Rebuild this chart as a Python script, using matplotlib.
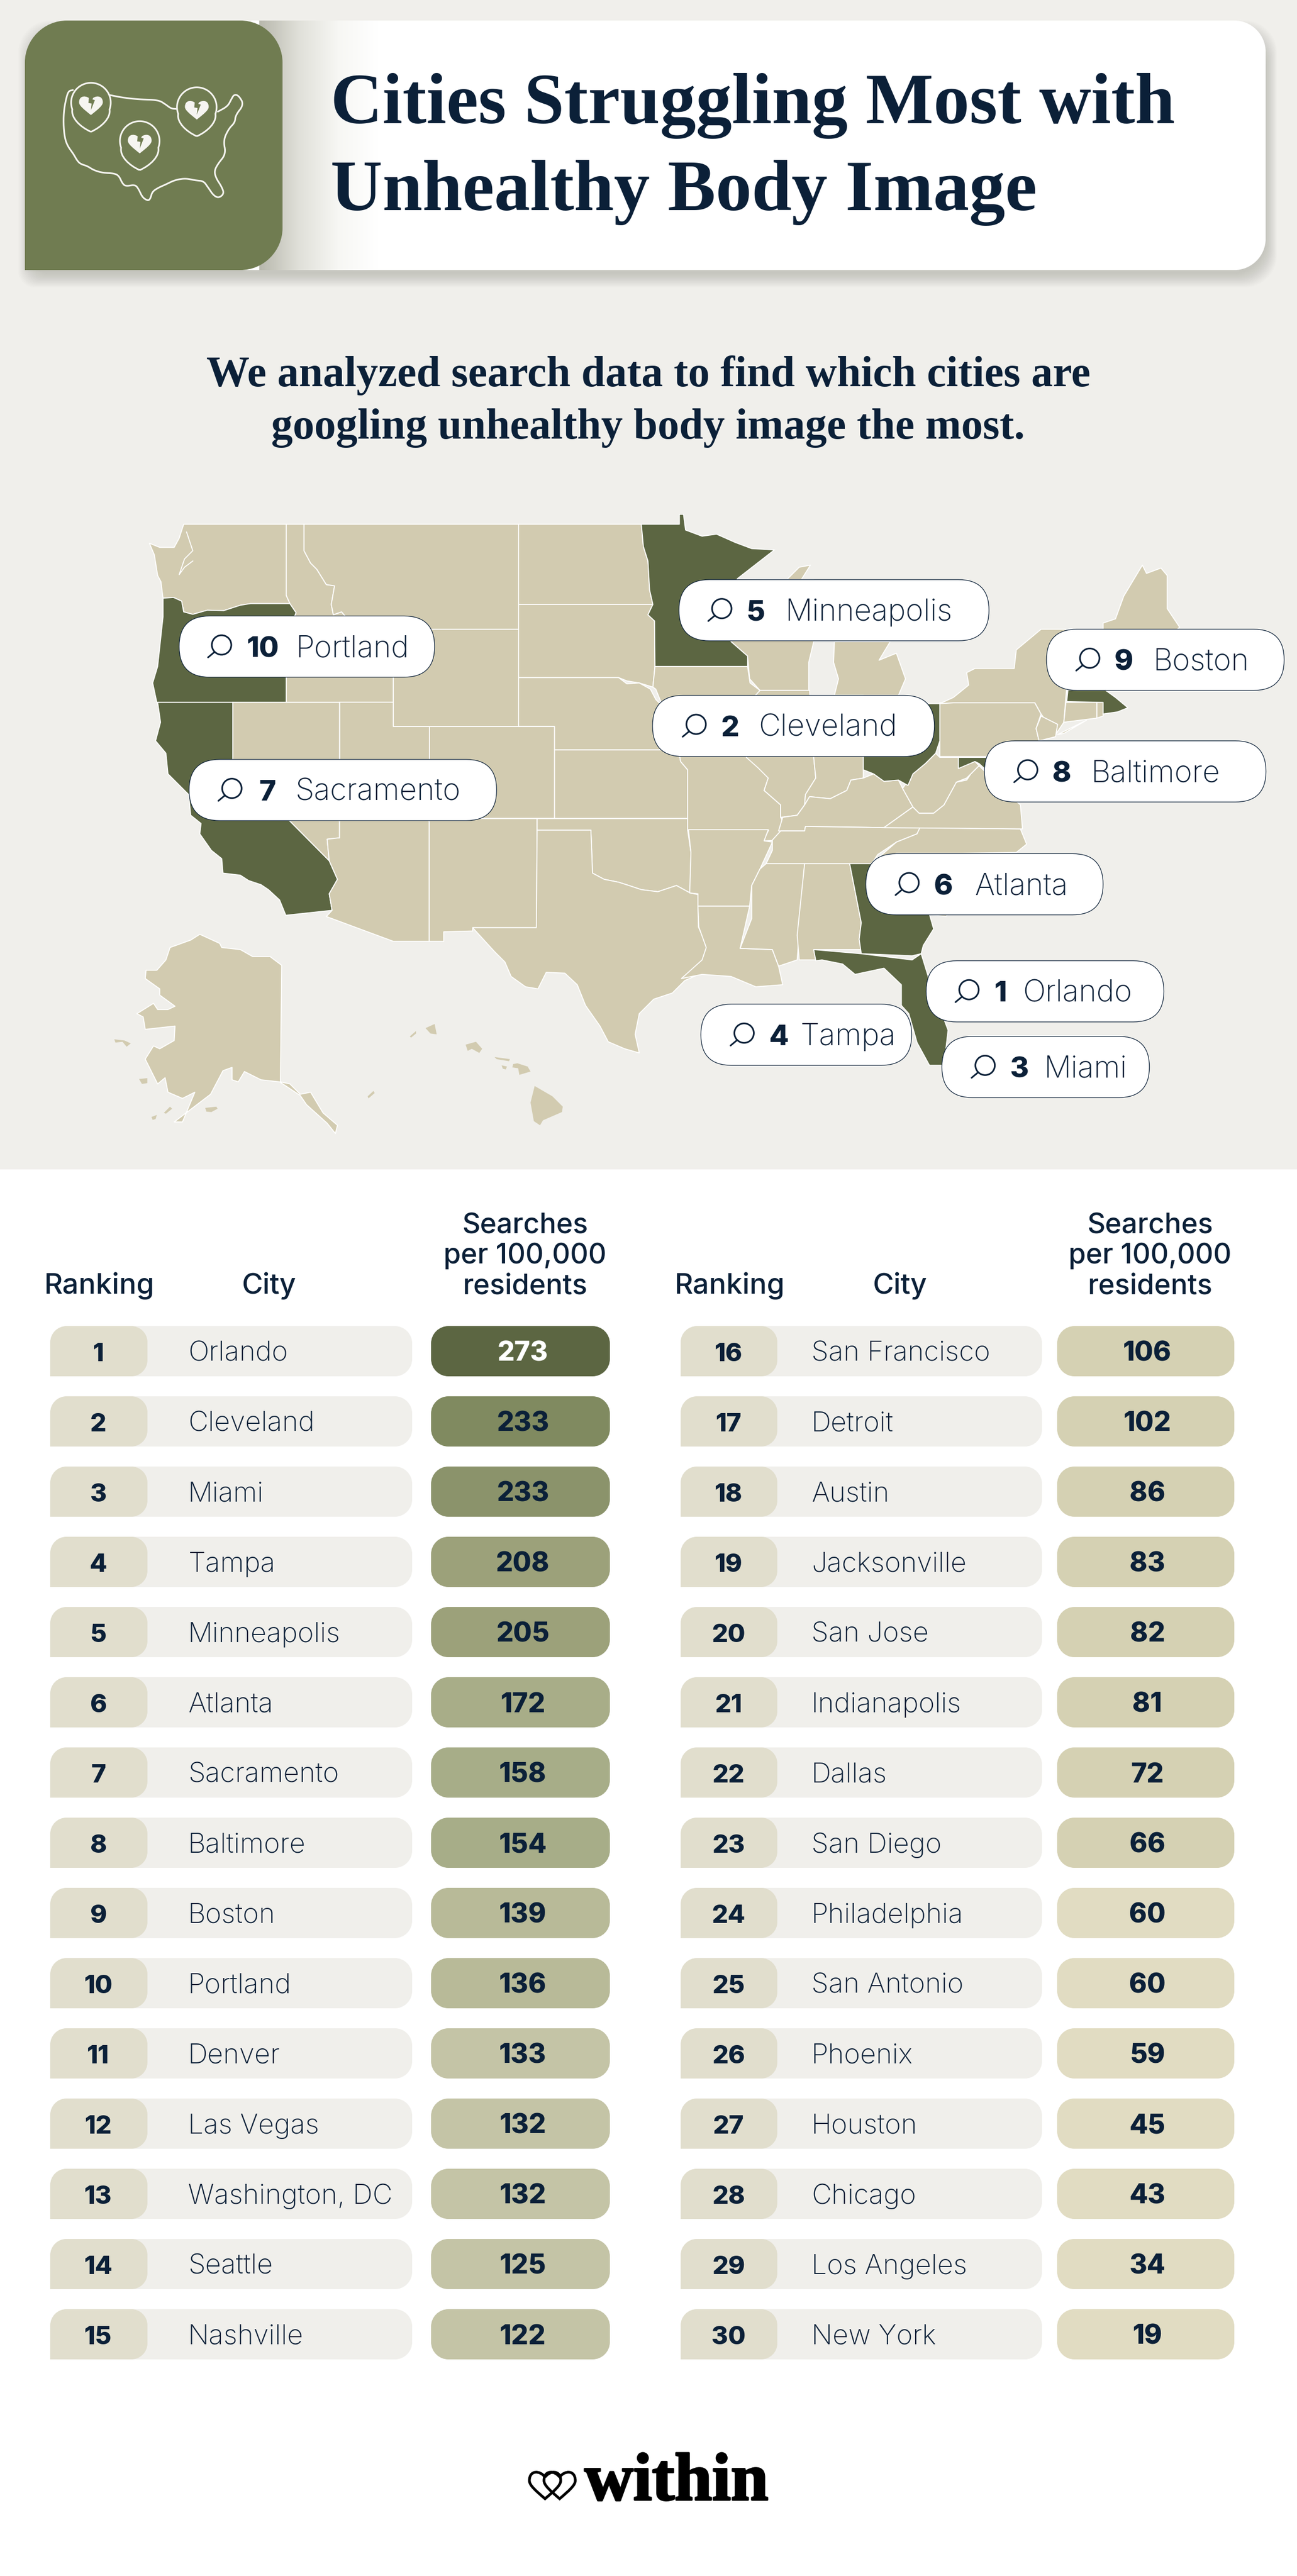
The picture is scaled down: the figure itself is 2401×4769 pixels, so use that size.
import numpy as np
import matplotlib
matplotlib.use('Agg')
import matplotlib.pyplot as plt
import matplotlib.patheffects as pe
from matplotlib.colors import LinearSegmentedColormap
from matplotlib.patches import PathPatch, Polygon, FancyBboxPatch, Circle, Rectangle
from matplotlib.path import Path

# table data
RANKS = list(range(1, 31))
CITIES = ['Orlando', 'Cleveland', 'Miami', 'Tampa', 'Minneapolis', 'Atlanta', 'Sacramento',
          'Baltimore', 'Boston', 'Portland', 'Denver', 'Las Vegas', 'Washington, DC', 'Seattle',
          'Nashville', 'San Francisco', 'Detroit', 'Austin', 'Jacksonville', 'San Jose',
          'Indianapolis', 'Dallas', 'San Diego', 'Philadelphia', 'San Antonio', 'Phoenix',
          'Houston', 'Chicago', 'Los Angeles', 'New York']
SEARCHES = [273, 233, 233, 208, 205, 172, 158, 154, 139, 136, 133, 132, 132, 125, 122,
            106, 102, 86, 83, 82, 81, 72, 66, 60, 60, 59, 45, 43, 34, 19]
VALUE_COLORS = ['#5c6642', '#808a60', '#8b936b', '#9ca17a', '#9ca17a', '#a8ad88', '#a7ad88',
                '#a7ad88', '#b8ba98', '#b8ba98', '#c4c4a6', '#c4c4a6', '#c4c4a6', '#c4c4a6',
                '#c4c4a6', '#d5d1b3', '#d5d1b3', '#d5d1b3', '#d5d1b3', '#d5d1b3', '#d5d1b3',
                '#d5d1b3', '#d5d1b3', '#e1dcc2', '#e1dcc2', '#e1dcc2', '#e1dcc2', '#e1dcc2',
                '#e1dcc2', '#e1dcc2']
HEADER_TITLE = ['Cities Struggling Most with', 'Unhealthy Body Image']
SUBTITLE = ['We analyzed search data to find which cities are', 'googling unhealthy body image the most.']

# state outlines, in map units (western half)
WEST_STATES = {
    'WA': [(183, 66), (431, 66), (431, 238), (440, 258), (345, 258), (320, 262), (280, 275), (240, 274),
           (205, 284), (183, 278), (178, 252), (158, 243), (133, 245), (128, 205), (120, 190), (112, 140),
           (100, 112), (125, 122), (160, 122), (172, 100)],
    'OR': [(133, 245), (158, 243), (178, 252), (183, 278), (205, 284), (240, 274), (280, 275), (320, 262),
           (345, 258), (440, 258), (455, 280), (431, 340), (431, 497), (118, 497), (108, 450), (120, 410),
           (133, 290)],
    'CA': [(120, 497), (302, 497), (302, 645), (535, 880), (555, 925), (535, 960), (542, 1000), (430, 1012),
           (415, 975), (388, 950), (370, 938), (340, 928), (320, 915), (278, 910), (275, 875), (250, 855),
           (222, 815), (225, 790), (200, 770), (195, 720), (145, 670), (140, 620), (115, 590), (127, 545)],
    'ID': [(431, 66), (474, 66), (474, 130), (490, 160), (505, 175), (528, 212), (548, 215), (540, 260),
           (545, 285), (565, 278), (575, 290), (690, 320), (690, 497), (431, 497), (431, 340), (455, 280),
           (440, 258), (431, 238)],
    'MT': [(474, 66), (993, 66), (993, 320), (690, 320), (575, 290), (565, 278), (545, 285), (540, 260),
           (548, 215), (528, 212), (505, 175), (490, 160), (474, 130)],
    'WY': [(690, 320), (993, 320), (993, 555), (690, 555)],
    'NV': [(302, 497), (560, 497), (560, 825), (530, 828), (535, 880), (302, 645)],
    'UT': [(560, 497), (690, 497), (690, 555), (777, 555), (777, 778), (560, 778)],
    'AZ': [(560, 778), (777, 778), (777, 1075), (690, 1075), (528, 1015), (542, 1000), (535, 960), (555, 925),
           (535, 880), (530, 828), (555, 825), (560, 825)],
    'CO': [(777, 555), (1080, 555), (1080, 778), (777, 778)],
    'NM': [(777, 778), (1038, 778), (1036, 1042), (882, 1042), (882, 1050), (812, 1052), (812, 1075), (777, 1075)],
    'ND': [(993, 66), (1290, 66), (1295, 120), (1306, 155), (1310, 225), (1318, 260), (993, 260)],
    'SD': [(993, 260), (1318, 260), (1306, 285), (1322, 300), (1323, 410), (1318, 460), (1285, 450), (1255, 445),
           (1235, 437), (993, 437)],
    'NE': [(993, 437), (1235, 437), (1255, 452), (1285, 450), (1312, 465), (1325, 490), (1335, 500), (1350, 550),
           (1365, 612), (1080, 612), (1080, 555), (993, 555)],
    'KS': [(1080, 612), (1380, 612), (1385, 640), (1402, 660), (1402, 778), (1080, 778)],
    'OK': [(1038, 778), (1402, 778), (1402, 805), (1410, 860), (1408, 958), (1375, 940), (1330, 955), (1290, 950),
           (1260, 940), (1235, 932), (1200, 925), (1172, 910), (1168, 806), (1038, 806)],
    'TX': [(1038, 806), (1168, 806), (1172, 910), (1200, 925), (1235, 932), (1260, 940), (1290, 950), (1330, 955),
           (1375, 940), (1408, 958), (1427, 962), (1428, 1040), (1450, 1090), (1440, 1150), (1395, 1170), (1365, 1200),
           (1320, 1215), (1285, 1250), (1275, 1300), (1285, 1345), (1250, 1335), (1210, 1318), (1190, 1280), (1155, 1230),
           (1135, 1180), (1105, 1152), (1060, 1150), (1040, 1190), (1010, 1185), (975, 1160), (960, 1125), (935, 1100),
           (882, 1042), (1036, 1042)],
    'AK': [(222, 1058), (270, 1080), (275, 1090), (320, 1095), (350, 1112), (392, 1112), (420, 1133), (417, 1415),
           (440, 1420), (465, 1445), (490, 1440), (520, 1490), (555, 1520), (550, 1540), (530, 1515), (480, 1470),
           (465, 1448), (415, 1415), (370, 1410), (330, 1390), (315, 1415), (300, 1410), (300, 1380), (278, 1388),
           (248, 1445), (160, 1512), (180, 1512), (210, 1440), (180, 1455), (145, 1440), (138, 1405), (120, 1420),
           (90, 1360), (110, 1328), (125, 1335), (160, 1315), (162, 1280), (90, 1288), (85, 1258), (70, 1250),
           (110, 1225), (120, 1240), (145, 1240), (162, 1232), (125, 1205), (125, 1190), (90, 1165), (92, 1145),
           (118, 1145), (140, 1120), (150, 1090), (200, 1072)],
}
PUGET_SOUND = [(190, 85), (205, 130), (185, 150), (172, 188), (185, 170), (205, 155)]
# small islands, Alaska and Hawaii
ISLANDS = [
    [(15, 1312), (40, 1315), (55, 1322), (45, 1330), (35, 1318), (18, 1320)],
    [(75, 1408), (95, 1406), (95, 1418), (82, 1420)],
    [(105, 1500), (118, 1495), (115, 1505), (108, 1507)],
    [(135, 1490), (150, 1475), (155, 1480), (140, 1492)],
    [(235, 1478), (262, 1475), (265, 1480), (250, 1488), (238, 1487)],
    [(628, 1450), (642, 1437), (645, 1442), (630, 1455)],
    [(768, 1285), (790, 1275), (795, 1300), (780, 1298)],
    [(730, 1305), (745, 1292), (745, 1298), (733, 1308)],
    [(865, 1325), (890, 1318), (905, 1335), (898, 1345), (880, 1335), (870, 1340)],
    [(935, 1355), (972, 1360), (970, 1365), (940, 1360)],
    [(952, 1375), (965, 1378), (962, 1385), (955, 1383)],
    [(980, 1372), (990, 1370), (1015, 1378), (1022, 1390), (995, 1398), (992, 1382), (978, 1380)],
    [(1032, 1425), (1075, 1450), (1100, 1475), (1098, 1488), (1052, 1508), (1045, 1520), (1030, 1510), (1022, 1465)],
]
# eastern half, shifted by EAST_SHIFT map units
EAST_SHIFT = 1307
EAST_STATES = {
    'MN': [(-17, 66), (75, 66), (75, 42), (85, 42), (90, 80), (130, 95), (165, 90), (210, 110), (250, 125), (305, 128),
           (215, 198), (200, 350), (240, 385), (240, 410), (16, 410), (15, 300), (-1, 285), (11, 260), (3, 225),
           (-1, 155), (-12, 120)],
    'IA': [(16, 410), (240, 410), (246, 450), (270, 468), (265, 500), (238, 625), (245, 612), (73, 612), (58, 550),
           (28, 490), (18, 465), (11, 460)],
    'MO': [(73, 612), (238, 612), (265, 640), (290, 680), (280, 710), (320, 745), (320, 775), (333, 800), (318, 830),
           (278, 832), (291, 806), (95, 806), (95, 660), (78, 640)],
    'AR': [(97, 805), (290, 805), (280, 832), (300, 835), (270, 900), (250, 940), (245, 990), (120, 990), (120, 960),
           (100, 958), (103, 860)],
    'LA': [(120, 990), (245, 990), (222, 1092), (300, 1095), (315, 1135), (325, 1180), (260, 1185), (200, 1160),
           (130, 1155), (80, 1165), (130, 1120), (140, 1090), (122, 1040)],
    'WI': [(200, 350), (215, 198), (400, 200), (400, 350), (388, 400), (388, 468), (270, 468), (245, 440), (240, 385)],
    'UP': [(335, 200), (365, 170), (392, 165), (370, 200)],
    'MI': [(450, 350), (585, 350), (558, 395), (600, 378), (622, 440), (605, 480), (450, 480), (460, 440), (448, 400)],
    'IL': [(270, 468), (390, 468), (400, 630), (405, 680), (380, 720), (378, 745), (360, 770), (320, 775), (320, 745),
           (280, 710), (290, 680), (265, 655), (237, 630), (250, 490)],
    'IN': [(395, 480), (520, 480), (520, 680), (490, 685), (480, 710), (440, 730), (390, 725), (378, 745), (380, 720),
           (405, 680), (400, 630)],
    'OH': [(520, 500), (705, 500), (705, 590), (695, 620), (670, 645), (640, 670), (628, 698), (605, 685), (570, 688),
           (545, 670), (520, 660)],
    'KY': [(378, 745), (390, 725), (440, 730), (480, 710), (490, 685), (520, 680), (545, 670), (570, 688), (605, 685),
           (615, 705), (640, 750), (570, 800), (380, 797), (378, 808), (315, 808), (325, 775), (360, 770)],
    'TN': [(300, 830), (320, 808), (378, 808), (380, 797), (570, 800), (657, 800), (650, 815), (600, 835), (555, 865),
           (540, 887), (285, 887), (300, 855)],
    'MS': [(285, 887), (378, 887), (360, 1120), (315, 1135), (300, 1095), (222, 1092), (250, 1020), (250, 940), (270, 900)],
    'AL': [(378, 887), (487, 887), (515, 1030), (510, 1070), (515, 1095), (400, 1095), (405, 1120), (365, 1120), (360, 1060)],
    'SC': [(540, 887), (600, 862), (760, 862), (830, 880), (720, 1015), (680, 1010), (560, 887)],
    'NC': [(540, 887), (600, 835), (650, 815), (657, 800), (900, 803), (915, 840), (890, 860), (760, 862), (600, 862)],
    'GA': [(487, 887), (560, 887), (680, 1010), (690, 1045), (665, 1085), (660, 1105), (638, 1110), (515, 1105), (510, 1070),
           (515, 1030)],
    'FL': [(400, 1095), (515, 1105), (638, 1120), (660, 1105), (680, 1170), (725, 1290), (715, 1375), (680, 1375), (650, 1320),
           (630, 1250), (612, 1230), (612, 1180), (570, 1140), (500, 1155), (470, 1130), (420, 1120), (405, 1122)],
    'VA': [(570, 800), (640, 750), (655, 765), (690, 765), (715, 745), (745, 690), (770, 685), (780, 670), (800, 650),
           (850, 700), (900, 745), (905, 803)],
    'WV': [(615, 705), (640, 670), (670, 645), (695, 620), (705, 630), (750, 630), (750, 655), (790, 640), (800, 650),
           (770, 680), (745, 690), (715, 745), (690, 765), (655, 765), (640, 750)],
    'MD': [(750, 630), (860, 630), (860, 700), (800, 645), (790, 640), (750, 657)],
    'PA': [(705, 498), (738, 498), (935, 498), (950, 525), (938, 560), (945, 590), (900, 628), (705, 628)],
    'NY': [(705, 500), (738, 485), (775, 455), (770, 425), (790, 415), (885, 415), (890, 370), (950, 320), (1010, 320),
           (1012, 460), (1005, 545), (985, 575), (950, 525), (935, 498), (738, 498)],
    'LI': [(990, 575), (1060, 540), (1005, 572)],
    'NJ': [(950, 530), (990, 550), (985, 580), (945, 590), (938, 560)],
    'VT': [(1010, 320), (1100, 320), (1100, 467), (1012, 467)],
    'ME': [(1100, 320), (1100, 305), (1130, 295), (1150, 240), (1195, 165), (1205, 185), (1240, 172), (1255, 190),
           (1255, 270), (1285, 315), (1200, 400), (1100, 400)],
    'MA': [(1015, 467), (1105, 467), (1130, 485), (1160, 510), (1135, 520), (1100, 525), (1100, 497), (1012, 495)],
    'CT': [(1010, 497), (1085, 497), (1085, 535), (1005, 545)],
    'RI': [(1085, 497), (1100, 497), (1100, 530), (1085, 535)],
}
HIGHLIGHTED = ['OR', 'CA', 'MN', 'OH', 'MD', 'MA', 'GA', 'FL']

# search pills: map-unit box (x0, x1, y0), icon x, rank x, city x
LABEL_BOXES = {
    'Portland': (172, 790, 288, 272, 375, 453),
    'Sacramento': (196, 940, 635, 297, 385, 453),
    'Minneapolis': (1381, 2131, 200, 1482, 1567, 1637),
    'Cleveland': (1317, 1999, 480, 1420, 1505, 1574),
    'Boston': (2270, 2845, 320, 2372, 2457, 2527),
    'Baltimore': (2120, 2801, 590, 2222, 2307, 2377),
    'Atlanta': (1833, 2407, 863, 1935, 2021, 2097),
    'Orlando': (1979, 2554, 1122, 2080, 2159, 2212),
    'Tampa': (1434, 1944, 1227, 1536, 1623, 1675),
    'Miami': (2017, 2519, 1305, 2119, 2204, 2263),
}

NAVY = '#0b2038'
BG = '#f0efeb'
LAND = '#d2cbb0'
DARK = '#5c6642'
SANS = ['Inter', 'Roboto', 'DejaVu Sans']
SERIF = ['Liberation Serif', 'DejaVu Serif']
PX = 72 / 100  # font points per reference pixel


def mx(u):
    return 200 + u / 1.3067


def my(v):
    return 920 + v / 1.3067


def rounded(x0, y0, x1, y1, tl, tr, br, bl):
    k = 0.45
    verts = [(x0 + tl, y0), (x1 - tr, y0), (x1 - tr * k, y0), (x1, y0 + tr * k), (x1, y0 + tr),
             (x1, y1 - br), (x1, y1 - br * k), (x1 - br * k, y1), (x1 - br, y1),
             (x0 + bl, y1), (x0 + bl * k, y1), (x0, y1 - bl * k), (x0, y1 - bl),
             (x0, y0 + tl), (x0, y0 + tl * k), (x0 + tl * k, y0), (x0 + tl, y0)]
    codes = [Path.MOVETO, Path.LINETO] + [Path.CURVE4] * 3 + [Path.LINETO] + [Path.CURVE4] * 3 + \
            [Path.LINETO] + [Path.CURVE4] * 3 + [Path.LINETO] + [Path.CURVE4] * 3
    return Path(verts, codes)


def chaikin(pts, n=3):
    pts = np.array(pts, dtype=float)
    for _ in range(n):
        q = 0.75 * pts[:-1] + 0.25 * pts[1:]
        r = 0.25 * pts[:-1] + 0.75 * pts[1:]
        mid = np.empty((2 * len(q), 2))
        mid[0::2] = q
        mid[1::2] = r
        pts = np.vstack([pts[:1], mid, pts[-1:]])
    return pts


def heart_path(cx, top, w, h):
    hw = w / 2
    verts = [(cx, top + h * 0.2),
             (cx - hw * 0.3, top - h * 0.05), (cx - hw, top - h * 0.08), (cx - hw, top + h * 0.33),
             (cx - hw, top + h * 0.5), (cx - hw * 0.6, top + h * 0.7), (cx, top + h),
             (cx + hw * 0.6, top + h * 0.7), (cx + hw, top + h * 0.5), (cx + hw, top + h * 0.33),
             (cx + hw, top - h * 0.08), (cx + hw * 0.3, top - h * 0.05), (cx, top + h * 0.2)]
    codes = [Path.MOVETO] + [Path.CURVE4] * 12
    return Path(verts, codes)


fig = plt.figure(figsize=(24.01, 47.69), dpi=100)
ax = fig.add_axes([0, 0, 1, 1])
ax.axis('off')
ax.add_patch(Rectangle((0, 0), 2401, 2165, fc=BG, ec='none', zorder=0))
ax.add_patch(Rectangle((0, 2165), 2401, 2604, fc='white', ec='none', zorder=0))

# header card with soft shadow
for i in range(16):
    grow = 26 - i * 1.7
    ax.add_patch(PathPatch(rounded(60 - grow, 50 - grow + 14, 2343 + grow * 0.8, 500 + grow + 6, 60, 60, 60, 30),
                           fc='#55554a', ec='none', alpha=0.015, zorder=1))
card = PathPatch(rounded(300, 38, 2343, 500, 0, 58, 58, 0), fc='white', ec='none', zorder=2)
ax.add_patch(card)
shade = LinearSegmentedColormap.from_list('shade', ['#b8b8ad', '#e0e0d9', '#f7f7f4', '#ffffff'])
grad = ax.imshow(np.linspace(0, 1, 256).reshape(1, -1), extent=(480, 700, 500, 38), cmap=shade,
                 aspect='auto', zorder=3)
grad.set_clip_path(card)
ax.add_patch(PathPatch(rounded(46, 38, 523, 500, 78, 78, 78, 0), fc='#707c51', ec='none', zorder=4))


def ix(z):
    return 40 + z / 3


def iy(z):
    return 30 + z / 3


ICON_LINE = '#f6f5f1'
icon_outline = [(285, 410), (262, 415), (250, 445), (235, 520), (232, 600), (240, 680), (258, 725), (285, 760), (310, 805),
                (330, 822), (365, 832), (400, 855), (450, 870), (510, 872), (540, 885), (560, 930), (580, 945), (630, 935),
                (650, 960), (670, 1005), (700, 1025), (715, 1015), (725, 975), (760, 952), (800, 935), (850, 910), (910, 900),
                (965, 912), (1010, 915), (1035, 950), (1065, 995), (1095, 1010), (1125, 985), (1110, 945), (1080, 900),
                (1070, 860), (1090, 820), (1135, 765), (1120, 690), (1150, 625), (1185, 590), (1188, 550), (1235, 490),
                (1205, 440), (1180, 435), (1165, 460), (1145, 500), (1090, 530)]
icon_top = [(490, 438), (560, 452), (650, 462), (760, 465), (800, 490), (830, 513), (860, 515)]
for line in (icon_outline, icon_top):
    p = chaikin(line)
    ax.plot(ix(p[:, 0]), iy(p[:, 1]), color=ICON_LINE, lw=2.2, solid_capstyle='round', zorder=5)
for cx, cy in [(385, 480), (973, 505), (656, 693)]:
    r = 110
    t = np.radians(np.linspace(200, -20, 50))
    arc = [(cx + r * np.cos(a), cy - r * np.sin(a)) for a in t]
    verts = [(cx, cy + 162)] + [(cx - 60, cy + 135), (arc[0][0] - 8, cy + 85), arc[0]] + arc[1:] + \
            [(arc[-1][0] + 8, cy + 85), (cx + 60, cy + 135), (cx, cy + 162)]
    codes = [Path.MOVETO] + [Path.CURVE4] * 3 + [Path.LINETO] * (len(arc) - 1) + [Path.CURVE4] * 3
    verts = [(ix(a), iy(b)) for a, b in verts]
    ax.add_patch(PathPatch(Path(verts, codes), fc='#707c51', ec=ICON_LINE, lw=2.2, zorder=6))
    ax.add_patch(PathPatch(heart_path(ix(cx), iy(cy - 36), 44, 35), fc=ICON_LINE, ec='none', zorder=7))
    crack = [(-10, -42), (20, -42), (8, -18), (22, -14), (0, 42), (4, 5), (-14, 2)]
    ax.add_patch(Polygon([(ix(cx + a), iy(cy + b)) for a, b in crack], fc='#707c51', ec='none', zorder=8))

# title and subtitle
for line, base in zip(HEADER_TITLE, [228, 389]):
    ax.text(612, base, line, family=SERIF, weight='bold', fontsize=133 * PX, color=NAVY, ha='left', va='baseline', zorder=9)
for line, base in zip(SUBTITLE, [715, 812]):
    ax.text(1200, base, line, family=SERIF, weight='bold', fontsize=80 * PX, color=NAVY, ha='center', va='baseline', zorder=9)

# map
for name, pts in WEST_STATES.items():
    fc = DARK if name in HIGHLIGHTED else LAND
    ax.add_patch(Polygon([(mx(u), my(v)) for u, v in pts], fc=fc, ec='white', lw=1.3, joinstyle='round', zorder=2))
sound = np.array(PUGET_SOUND)
ax.plot(mx(sound[:, 0]), my(sound[:, 1]), color='white', lw=1.3, zorder=2.5)
for name, pts in EAST_STATES.items():
    fc = DARK if name in HIGHLIGHTED else LAND
    ax.add_patch(Polygon([(mx(u + EAST_SHIFT), my(v)) for u, v in pts], fc=fc, ec='white', lw=1.3, joinstyle='round',
                         zorder=3 if name in HIGHLIGHTED else 2))
for pts in ISLANDS:
    ax.add_patch(Polygon([(mx(u), my(v)) for u, v in pts], fc=LAND, ec='none', zorder=2))

# search pills on the map
for city, (u0, u1, v0, iu, ru, cu) in LABEL_BOXES.items():
    x0, x1, y0 = mx(u0), mx(u1), my(v0)
    h = 148 / 1.3067
    ax.add_patch(FancyBboxPatch((x0, y0), x1 - x0, h, boxstyle='round,pad=0,rounding_size=%f' % (h / 2),
                                fc='white', ec=NAVY, lw=0.9, zorder=10))
    yc = y0 + h / 2
    ic = mx(iu)
    ax.add_patch(Circle((ic + 2, yc - 3), 18, fc='none', ec=NAVY, lw=2.2, zorder=11))
    ax.plot([ic - 11, ic - 23], [yc + 10, yc + 20], color=NAVY, lw=2.2, solid_capstyle='round', zorder=11)
    ax.text(mx(ru), yc + 19, str(CITIES.index(city) + 1), family=SANS, weight=800, fontsize=53 * PX, color=NAVY,
            ha='center', va='baseline', zorder=11)
    ax.text(mx(cu), yc + 19, city, family=SANS, weight='light', fontsize=56 * PX, color=NAVY,
            ha='left', va='baseline', zorder=11)

# table headers
for rank_c, city_c, val_c in [(184, 498, 972), (1351, 1665, 2129)]:
    ax.text(rank_c, 2395, 'Ranking', family=SANS, weight='medium', fontsize=53 * PX, color=NAVY, ha='center', va='baseline')
    ax.text(city_c, 2395, 'City', family=SANS, weight='medium', fontsize=53 * PX, color=NAVY, ha='center', va='baseline')
    for line, base in zip(['Searches', 'per 100,000', 'residents'], [2283, 2339, 2395]):
        ax.text(val_c, base, line, family=SANS, weight='medium', fontsize=52 * PX, color=NAVY, ha='center', va='baseline')

# table rows
ROW_TOP, ROW_H, ROW_STEP = 2455, 93, 130
COLS = [(93, 273, 763, 798, 1129, 182, 348, 968), (1260, 1439, 1929, 1957, 2285, 1349, 1502, 2124)]
for i in range(30):
    x0, x1, x2, x3, x4, rank_x, city_x, val_x = COLS[i // 15]
    y0 = ROW_TOP + (i % 15) * ROW_STEP
    y1 = y0 + ROW_H
    base = y0 + ROW_H / 2 + 18
    ax.add_patch(PathPatch(rounded(x0 + 40, y0, x2, y1, 0, 32, 32, 0), fc=BG, ec='none', zorder=2))
    ax.add_patch(PathPatch(rounded(x0, y0, x1, y1, 30, 30, 30, 0), fc='#e1decd', ec='none', zorder=3))
    ax.add_patch(PathPatch(rounded(x3, y0, x4, y1, 32, 32, 32, 32), fc=VALUE_COLORS[i], ec='none', zorder=3))
    ax.text(rank_x, base, str(RANKS[i]), family=SANS, weight=800, fontsize=47 * PX, color=NAVY, ha='center', va='baseline', zorder=4)
    ax.text(city_x, base, CITIES[i], family=SANS, weight='light', fontsize=51 * PX, color=NAVY, ha='left', va='baseline', zorder=4)
    ax.text(val_x, base, str(SEARCHES[i]), family=SANS, weight=800, fontsize=50 * PX,
            color='white' if i == 0 else NAVY, ha='center', va='baseline', zorder=4)

# logo
for cx in (1009, 1036):
    ax.add_patch(PathPatch(heart_path(cx, 4576, 58, 50), fc='none', ec='black', lw=3.6, joinstyle='miter', zorder=5))
ax.text(1082, 4628, 'within', family=SERIF, weight='bold', fontsize=125 * PX, color='black', ha='left', va='baseline', zorder=5,
        path_effects=[pe.withStroke(linewidth=2.5, foreground='black')])

ax.set_xlim(0, 2401)
ax.set_ylim(4769, 0)
fig.savefig('out.png', dpi=100, facecolor='white')
